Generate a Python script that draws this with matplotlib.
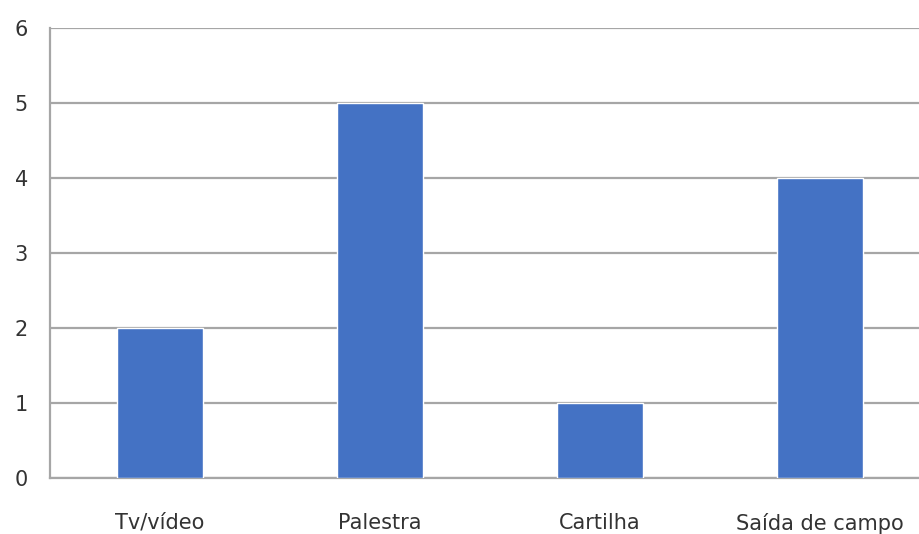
import matplotlib
matplotlib.use("Agg")
import matplotlib.pyplot as plt

categories = ["Tv/vídeo", "Palestra", "Cartilha", "Saída de campo"]
values = [2, 5, 1, 4]
yticks = [0, 1, 2, 3, 4, 5, 6]

plt.rcParams['font.family'] = ['DejaVu Sans']

fig = plt.figure(figsize=(9.2, 5.34), dpi=100)
ax = fig.add_axes([50/920, 56/534, 880/920, 450/534])

x = list(range(len(categories)))
ax.bar(x, values, width=0.39, color="#4472C4", edgecolor="white", linewidth=1.0, zorder=3)

ax.set_xlim(-0.5, 3.5)
ax.set_ylim(0, 6)
ax.set_yticks(yticks)
ax.set_xticks(x)
ax.set_xticklabels(categories)

ax.grid(axis="y", color="#a6a6a6", linewidth=1.6, zorder=0)
ax.set_axisbelow(True)
for s in ["top", "right"]:
    ax.spines[s].set_visible(False)
ax.spines["left"].set_color("#a6a6a6")
ax.spines["left"].set_linewidth(1.6)
ax.spines["bottom"].set_color("#a6a6a6")
ax.spines["bottom"].set_linewidth(1.6)

ax.tick_params(axis="both", length=0, labelsize=15, colors="#333333")
ax.tick_params(axis="y", pad=16)
ax.tick_params(axis="x", pad=25)

fig.savefig("out.png", dpi=100)
